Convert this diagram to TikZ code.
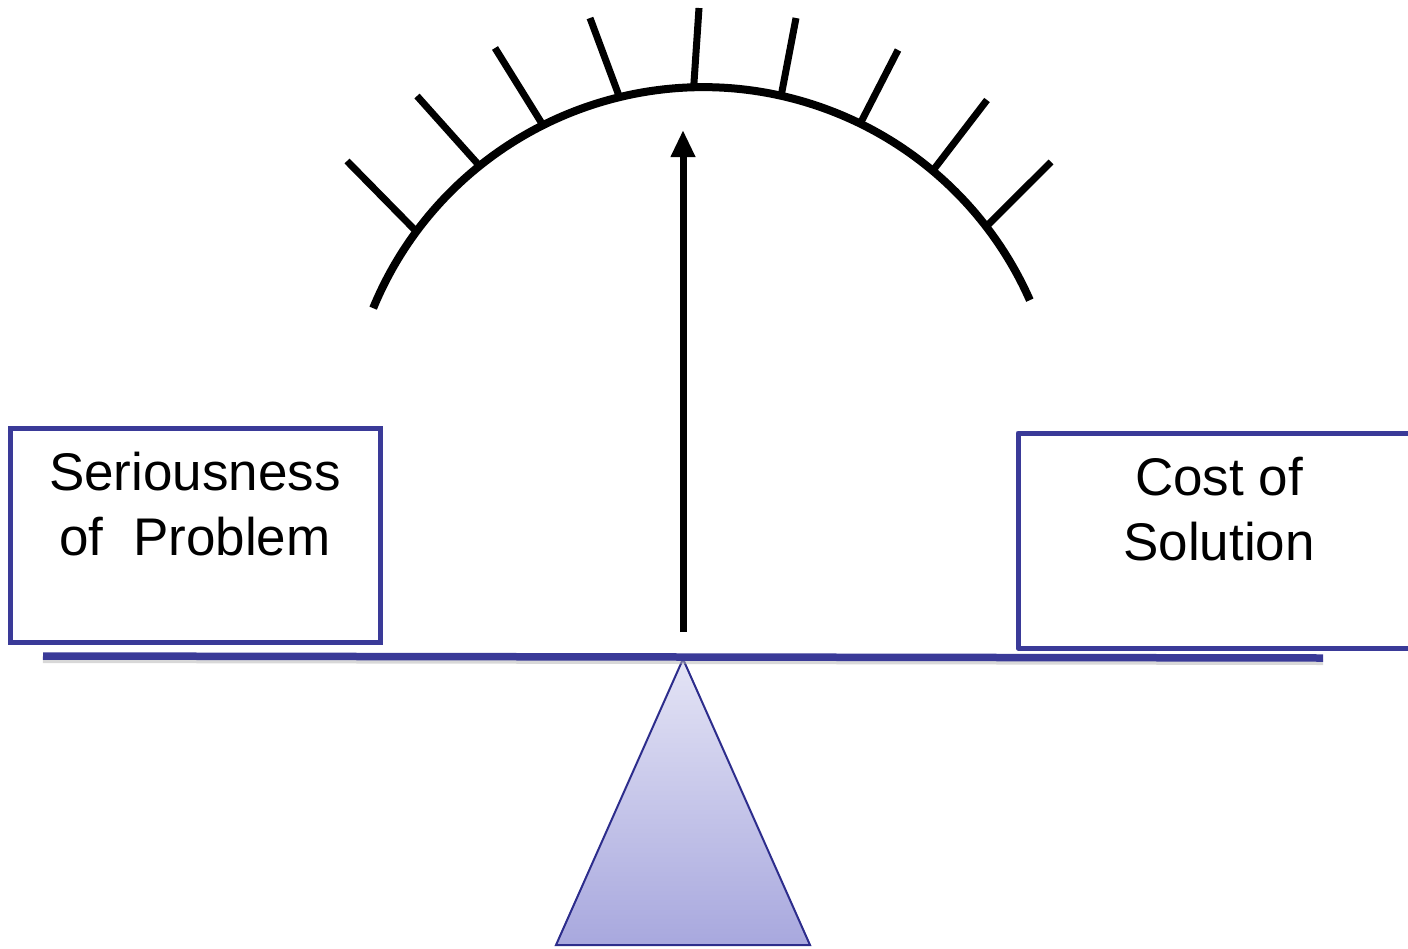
\documentclass[tikz,border=0pt]{standalone}
\usepackage{fontspec}
\setmainfont{Liberation Sans}
\usetikzlibrary{arrows.meta}
\definecolor{beamblue}{RGB}{58,58,152}
\definecolor{edgeblue}{RGB}{45,45,140}
\definecolor{triTop}{RGB}{228,228,245}
\definecolor{triBot}{RGB}{168,168,222}
\tikzset{
  gauge/.style={line width=8pt, black},
  tick/.style={line width=7pt, black},
  pointer/.style={line width=7pt, black, -{Triangle[length=27pt,width=23pt]}},
  panbox/.style={draw=beamblue, line width=5pt, inner sep=0pt},
  label/.style={font=\fontsize{53}{65}\selectfont, align=center, inner sep=0pt, text=black},
  beamline/.style={line width=7.5pt, beamblue},
}
\begin{document}
\begin{tikzpicture}[x=1pt,y=-1pt]
\useasboundingbox (0,0) rectangle (1408,948);
% gauge arc
\coordinate (c) at (703.2,444.2);
\draw[gauge] ([shift={(c)}]-157.6:357) arc[start angle=-157.6, end angle=-23.8, radius=357];
% ticks
\foreach \a/\ox/\oy [count=\i] in {
  -143.4/347/161, -128.8/417/96, -116.7/495/48, -103.6/590/18, -91.5/699/8,
  -77.4/796/18, -63.9/898/50, -50.0/987/100, -37.6/1051/162}{
  \coordinate (ti\i) at ([shift={(c)}]\a:359);
  \coordinate (to\i) at (\ox,\oy);
  \draw[tick] (ti\i) -- (to\i);
}
% pointer
\coordinate (pbase) at (683,632);
\coordinate (ptip) at (683,130);
\draw[pointer] (pbase) -- (ptip);
% fulcrum
\coordinate (apex) at (683,659);
\coordinate (bl) at (556,945);
\coordinate (br) at (810,945);
\shade[top color=triTop, bottom color=triBot] (apex) -- (br) -- (bl) -- cycle;
\draw[edgeblue, line width=2pt, line join=miter] (apex) -- (br) -- (bl) -- cycle;
% beam
\coordinate (beamL) at (43,656);
\coordinate (beamR) at (1323,658);
\draw[line width=6pt, black!30, opacity=0.5] ([yshift=-4pt]beamL) -- ([yshift=-4pt]beamR);
\draw[beamline] (beamL) -- (beamR);
% left pan
\node[panbox, minimum width=370pt, minimum height=214pt] (lbox) at (195,535) {};
\node[label, anchor=north] (ltext) at (195,452) {Seriousness\\of\ \ Problem};
% right pan (runs off the right edge)
\coordinate (rtop) at (1412,433);
\coordinate (rbot) at (1412,648);
\node[label, anchor=north] (rtext) at (1219,457) {Cost of\\Solution};
\draw[draw=beamblue, line width=5pt, line join=round] (rtop) -- (1018,433) -- (1018,648) -- (rbot);
\end{tikzpicture}
\end{document}
